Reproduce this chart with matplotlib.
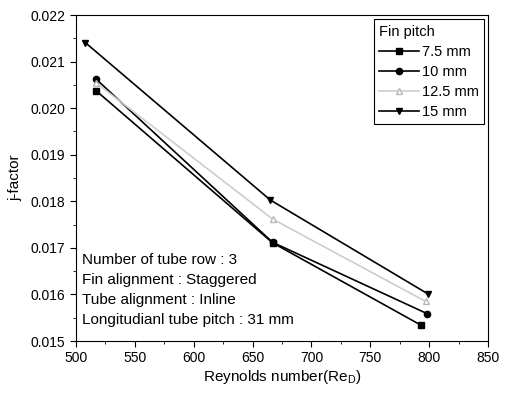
import matplotlib
matplotlib.use("Agg")
import matplotlib.pyplot as plt
from matplotlib.ticker import MultipleLocator

plt.rcParams['font.family'] = ['Liberation Sans', 'DejaVu Sans']

labels = ["7.5 mm", "10 mm", "12.5 mm", "15 mm"]
re_75 = [517, 667, 793]
j_75 = [0.02038, 0.01711, 0.01534]
re_10 = [517, 667, 798]
j_10 = [0.02063, 0.01712, 0.01559]
re_125 = [517, 667, 797]
j_125 = [0.02055, 0.01762, 0.01585]
re_15 = [508, 665, 799]
j_15 = [0.02141, 0.01803, 0.01601]

notes = ["Number of tube row : 3",
         "Fin alignment : Staggered",
         "Tube alignment : Inline",
         "Longitudianl tube pitch : 31 mm"]

fig = plt.figure(figsize=(5.09, 3.97), dpi=100)
ax = fig.add_axes([0.149, 0.141, 0.810, 0.821])

ax.plot(re_75, j_75, color='black', lw=1.2, marker='s', ms=4.5, label=labels[0])
ax.plot(re_10, j_10, color='black', lw=1.2, marker='o', ms=4.5, label=labels[1])
ax.plot(re_125, j_125, color='#cdcdcd', lw=1.2, marker='^', ms=5, mfc='white',
        mec='#b8b8b8', label=labels[2])
ax.plot(re_15, j_15, color='black', lw=1.2, marker='v', ms=5, label=labels[3])

ax.set_xlim(500, 850)
ax.set_ylim(0.015, 0.022)
ax.xaxis.set_major_locator(MultipleLocator(50))
ax.xaxis.set_minor_locator(MultipleLocator(25))
ax.yaxis.set_major_locator(MultipleLocator(0.001))
ax.yaxis.set_minor_locator(MultipleLocator(0.0005))
ax.tick_params(which='both', direction='out', top=False, right=False, labelsize=10)
ax.tick_params(which='major', length=4)
ax.tick_params(which='minor', length=2.5)
ax.yaxis.set_major_formatter(matplotlib.ticker.FormatStrFormatter('%.3f'))

ax.set_xlabel("Reynolds number(Re$_\\mathregular{D}$)", fontsize=11, labelpad=2)
ax.set_ylabel("j-factor", fontsize=11, labelpad=6)

leg = ax.legend(title="Fin pitch", loc='upper right', fontsize=10.5, title_fontsize=10.5,
                frameon=True, fancybox=False, edgecolor='black', framealpha=1,
                handlelength=2.7, borderpad=0.35, labelspacing=0.42, handletextpad=0.2,
                borderaxespad=0.3)
leg._legend_box.align = "left"
leg.get_frame().set_linewidth(0.8)

ys = [0.248, 0.187, 0.126, 0.064]
for y, t in zip(ys, notes):
    ax.text(0.015, y, t, transform=ax.transAxes, fontsize=11, va='center')

fig.savefig("out.png", dpi=100)
